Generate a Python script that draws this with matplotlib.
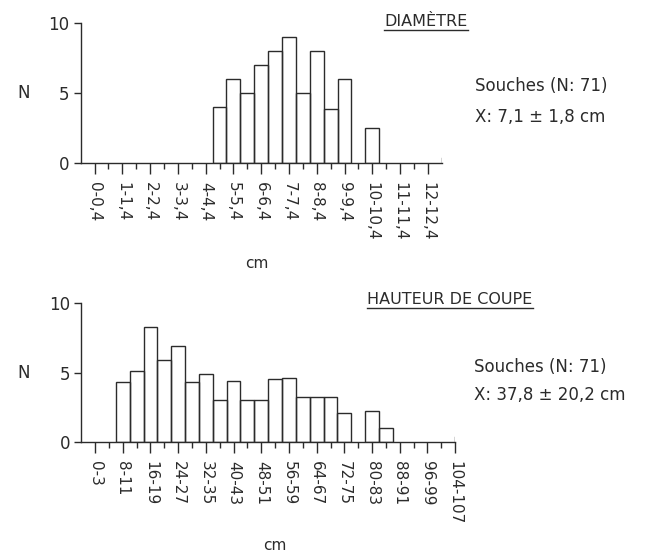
import matplotlib
matplotlib.use("Agg")
import matplotlib.pyplot as plt
from matplotlib.lines import Line2D
from matplotlib.transforms import IdentityTransform

# ---- data (bin index -> count) ----
diam_labels = ["0-0,4", "1-1,4", "2-2,4", "3-3,4", "4-4,4", "5-5,4", "6-6,4",
               "7-7,4", "8-8,4", "9-9,4", "10-10,4", "11-11,4", "12-12,4"]
diam_bins = [9, 10, 11, 12, 13, 14, 15, 16, 17, 18, 20]
diam_counts = [4, 6, 5, 7, 8, 9, 5, 8, 3.9, 6, 2.5]

haut_labels = ["0-3", "8-11", "16-19", "24-27", "32-35", "40-43", "48-51",
               "56-59", "64-67", "72-75", "80-83", "88-91", "96-99", "104-107"]
haut_bins = [2, 3, 4, 5, 6, 7, 8, 9, 10, 11, 12, 13, 14, 15, 16, 17, 18, 20, 21]
haut_counts = [4.3, 5.1, 8.3, 5.9, 6.9, 4.3, 4.9, 3.0, 4.4, 3.0, 3.0, 4.5,
               4.6, 3.2, 3.2, 3.2, 2.05, 2.2, 1.0]

ink = "#2b2b2b"
W, H = 668, 554
plt.rcParams["font.family"] = "DejaVu Sans"
plt.rcParams["text.color"] = ink

fig = plt.figure(figsize=(W / 100, H / 100), dpi=100)


def px(x, y):
    return x / W, 1 - y / H


def histo(rect, bins, counts, labels, nbins):
    ax = fig.add_axes(rect)
    ax.bar(bins, counts, width=1, fill=False, edgecolor=ink, linewidth=1.0)
    ax.set_xlim(-1, nbins)
    ax.set_ylim(0, 10)
    for s in ["top", "right"]:
        ax.spines[s].set_visible(False)
    for s in ["left", "bottom"]:
        ax.spines[s].set_color(ink)
        ax.spines[s].set_linewidth(1.0)
    ax.spines["left"].set_bounds(0, 10)
    ax.set_yticks([0, 5, 10])
    ax.tick_params(axis="y", length=5, width=1, color=ink, labelsize=12,
                   labelcolor=ink, pad=3)
    ax.set_xticks(range(0, 2 * len(labels), 2))
    ax.set_xticklabels(labels, rotation=-90, fontsize=11, color=ink)
    ax.set_xticks(range(1, 2 * len(labels) - 1, 2), minor=True)
    ax.tick_params(axis="x", which="major", length=8, width=1, color=ink, pad=6)
    ax.tick_params(axis="x", which="minor", length=4, width=1, color=ink)
    ax.axvline(nbins, ymin=0, ymax=0.035, color=ink, linewidth=1)
    ax.patch.set_visible(False)
    return ax


ax1 = histo([80.7 / W, 1 - 163 / H, 361 / W, 139.7 / H],
            diam_bins, diam_counts, diam_labels, 25)
ax2 = histo([81.2 / W, 1 - 441.7 / H, 374 / W, 138.4 / H],
            haut_bins, haut_counts, haut_labels, 26)

fig.text(*px(24, 93), "N", fontsize=12, ha="center", va="center")
fig.text(*px(24, 373), "N", fontsize=12, ha="center", va="center")
fig.text(*px(257, 264), "cm", fontsize=11, ha="center", va="center")
fig.text(*px(275, 545), "cm", fontsize=11, ha="center", va="center")

t1 = fig.text(*px(426, 21), "DIAMÈTRE", fontsize=11.5, ha="center", va="center")
t2 = fig.text(*px(450, 299), "HAUTEUR DE COUPE", fontsize=11.5, ha="center", va="center")

fig.text(*px(475, 86), "Souches (N: 71)", fontsize=12, ha="left", va="center")
fig.text(*px(475, 117), "X: 7,1 ± 1,8 cm", fontsize=12, ha="left", va="center")
fig.text(*px(474, 367), "Souches (N: 71)", fontsize=12, ha="left", va="center")
fig.text(*px(474, 395), "X: 37,8 ± 20,2 cm", fontsize=12, ha="left", va="center")

# underline the two titles
fig.canvas.draw()
for t in (t1, t2):
    bb = t.get_window_extent()
    fig.add_artist(Line2D([bb.x0, bb.x1], [bb.y0 - 1, bb.y0 - 1],
                          transform=IdentityTransform(), color=ink, linewidth=1))

fig.savefig("out.png", dpi=100)
